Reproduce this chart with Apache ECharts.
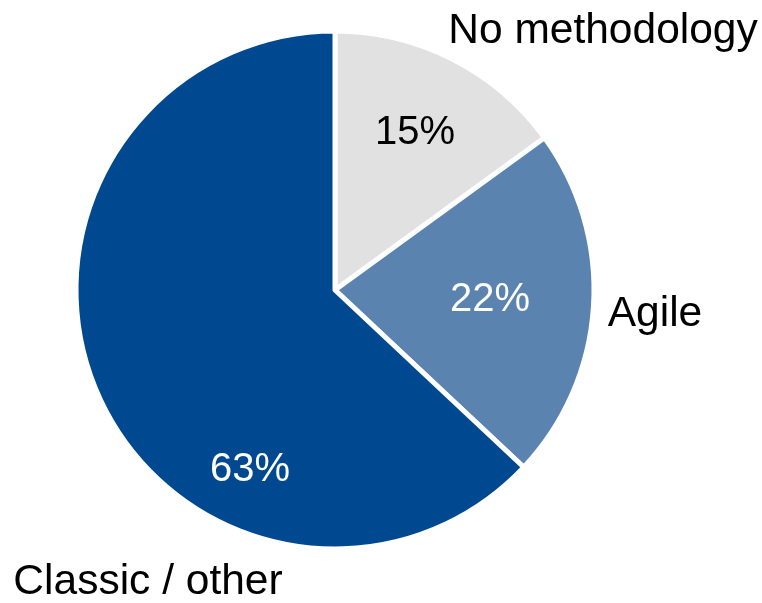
<!DOCTYPE html>
<html>
<head>
<meta charset="utf-8">
<script src="https://cdn.jsdelivr.net/npm/echarts@6/dist/echarts.min.js"></script>
<style>
  html, body { margin: 0; padding: 0; background: #ffffff; }
  #chart { width: 762px; height: 603px; }
</style>
</head>
<body>
<div id="chart"></div>
<script>
// Share of projects by methodology (percent), clockwise from 12 o'clock
const categories = ['No methodology', 'Agile', 'Classic / other'];
const shares = [15, 22, 63];

const sliceColors = ['#e1e1e1', '#5a83b0', '#004990'];
const valueLabelColors = ['#000000', '#ffffff', '#ffffff'];

// Label anchor points (pixel centres) for the percentage and name labels
const valueLabelPos = [[415, 133], [490, 300], [250, 470]];
const nameLabelPos = [[603, 31], [655, 314], [148, 582]];

const chart = echarts.init(document.getElementById('chart'), null, { renderer: 'canvas' });

const font = '"Liberation Sans", Arial, Helvetica, sans-serif';

const pieData = categories.map((name, i) => ({
  name,
  value: shares[i],
  itemStyle: { color: sliceColors[i] },
  label: { color: valueLabelColors[i] }
}));

chart.setOption({
  animation: false,
  backgroundColor: '#ffffff',
  series: [
    {
      type: 'pie',
      center: [335, 290],
      radius: [0, 259],
      startAngle: 90,
      clockwise: true,
      silent: true,
      itemStyle: { borderColor: '#ffffff', borderWidth: 5 },
      label: {
        show: true,
        position: 'inside',
        formatter: p => p.value + '%',
        fontFamily: font,
        fontSize: 40,
        overflow: 'none'
      },
      labelLine: { show: false },
      labelLayout: p => ({
        x: valueLabelPos[p.dataIndex][0],
        y: valueLabelPos[p.dataIndex][1],
        align: 'center',
        verticalAlign: 'middle'
      }),
      data: pieData
    },
    {
      // transparent twin used only to carry the category names outside the pie
      type: 'pie',
      center: [335, 290],
      radius: [0, 259],
      startAngle: 90,
      clockwise: true,
      silent: true,
      itemStyle: { color: 'rgba(0,0,0,0)', borderWidth: 0 },
      label: {
        show: true,
        position: 'outside',
        alignTo: 'none',
        formatter: p => p.name,
        color: '#000000',
        fontFamily: font,
        fontSize: 42.5,
        overflow: 'none',
        width: 400
      },
      labelLine: { show: false },
      labelLayout: p => ({
        x: nameLabelPos[p.dataIndex][0],
        y: nameLabelPos[p.dataIndex][1],
        align: 'center',
        verticalAlign: 'middle'
      }),
      data: categories.map((name, i) => ({ name, value: shares[i] }))
    }
  ]
});
</script>
</body>
</html>
